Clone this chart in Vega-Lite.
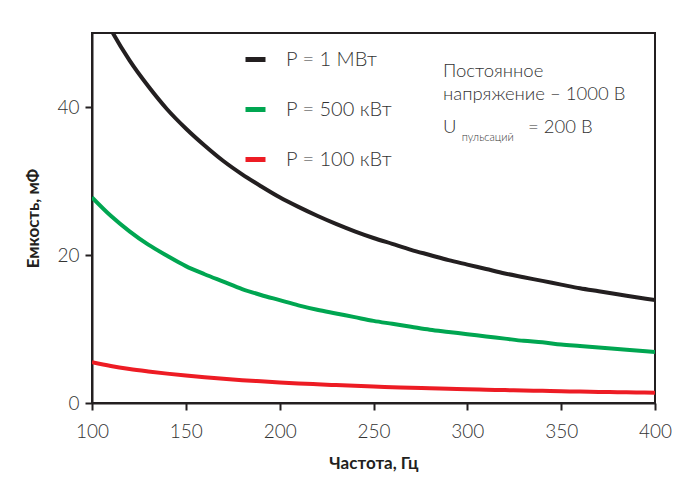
{
  "$schema": "https://vega.github.io/schema/vega-lite/v6.json",
  "width": 563,
  "height": 370,
  "autosize": "none",
  "padding": {"left": 92, "top": 33, "right": 28, "bottom": 93},
  "background": "white",
  "config": {
    "view": {"stroke": "#231f20", "strokeWidth": 2},
    "font": "Lato",
    "axis": {
      "domainColor": "#231f20", "domainWidth": 2, "tickColor": "#231f20", "tickWidth": 2, "tickSize": 7,
      "labelFont": "Lato", "labelFontSize": 19, "labelFontWeight": 300, "labelColor": "#333333", "grid": false, "labelFlush": false,
      "titleFont": "Lato", "titleFontSize": 17, "titleFontWeight": "bold", "titleColor": "#231f20"
    }
  },
  "datasets": {
    "curves": [
      {"f": 100, "c": 55.6, "s": "P = 1 МВт"}, {"f": 110, "c": 50.5, "s": "P = 1 МВт"}, {"f": 120, "c": 46.3, "s": "P = 1 МВт"},
      {"f": 130, "c": 42.8, "s": "P = 1 МВт"}, {"f": 140, "c": 39.7, "s": "P = 1 МВт"}, {"f": 150, "c": 37.1, "s": "P = 1 МВт"},
      {"f": 160, "c": 34.8, "s": "P = 1 МВт"}, {"f": 170, "c": 32.7, "s": "P = 1 МВт"}, {"f": 180, "c": 30.9, "s": "P = 1 МВт"},
      {"f": 190, "c": 29.3, "s": "P = 1 МВт"}, {"f": 200, "c": 27.8, "s": "P = 1 МВт"}, {"f": 210, "c": 26.5, "s": "P = 1 МВт"},
      {"f": 220, "c": 25.3, "s": "P = 1 МВт"}, {"f": 230, "c": 24.2, "s": "P = 1 МВт"}, {"f": 240, "c": 23.2, "s": "P = 1 МВт"},
      {"f": 250, "c": 22.3, "s": "P = 1 МВт"}, {"f": 260, "c": 21.5, "s": "P = 1 МВт"}, {"f": 270, "c": 20.7, "s": "P = 1 МВт"},
      {"f": 280, "c": 20.0, "s": "P = 1 МВт"}, {"f": 290, "c": 19.3, "s": "P = 1 МВт"}, {"f": 300, "c": 18.7, "s": "P = 1 МВт"},
      {"f": 310, "c": 18.1, "s": "P = 1 МВт"}, {"f": 320, "c": 17.5, "s": "P = 1 МВт"}, {"f": 330, "c": 17.0, "s": "P = 1 МВт"},
      {"f": 340, "c": 16.5, "s": "P = 1 МВт"}, {"f": 350, "c": 16.0, "s": "P = 1 МВт"}, {"f": 360, "c": 15.5, "s": "P = 1 МВт"},
      {"f": 370, "c": 15.1, "s": "P = 1 МВт"}, {"f": 380, "c": 14.7, "s": "P = 1 МВт"}, {"f": 390, "c": 14.3, "s": "P = 1 МВт"},
      {"f": 400, "c": 13.9, "s": "P = 1 МВт"},
      {"f": 100, "c": 27.8, "s": "P = 500 кВт"}, {"f": 110, "c": 25.3, "s": "P = 500 кВт"}, {"f": 120, "c": 23.2, "s": "P = 500 кВт"},
      {"f": 130, "c": 21.4, "s": "P = 500 кВт"}, {"f": 140, "c": 19.9, "s": "P = 500 кВт"}, {"f": 150, "c": 18.5, "s": "P = 500 кВт"},
      {"f": 160, "c": 17.4, "s": "P = 500 кВт"}, {"f": 170, "c": 16.4, "s": "P = 500 кВт"}, {"f": 180, "c": 15.4, "s": "P = 500 кВт"},
      {"f": 190, "c": 14.6, "s": "P = 500 кВт"}, {"f": 200, "c": 13.9, "s": "P = 500 кВт"}, {"f": 210, "c": 13.2, "s": "P = 500 кВт"},
      {"f": 220, "c": 12.6, "s": "P = 500 кВт"}, {"f": 230, "c": 12.1, "s": "P = 500 кВт"}, {"f": 240, "c": 11.6, "s": "P = 500 кВт"},
      {"f": 250, "c": 11.1, "s": "P = 500 кВт"}, {"f": 260, "c": 10.7, "s": "P = 500 кВт"}, {"f": 270, "c": 10.3, "s": "P = 500 кВт"},
      {"f": 280, "c": 9.9, "s": "P = 500 кВт"}, {"f": 290, "c": 9.6, "s": "P = 500 кВт"}, {"f": 300, "c": 9.3, "s": "P = 500 кВт"},
      {"f": 310, "c": 9.0, "s": "P = 500 кВт"}, {"f": 320, "c": 8.7, "s": "P = 500 кВт"}, {"f": 330, "c": 8.4, "s": "P = 500 кВт"},
      {"f": 340, "c": 8.2, "s": "P = 500 кВт"}, {"f": 350, "c": 7.9, "s": "P = 500 кВт"}, {"f": 360, "c": 7.7, "s": "P = 500 кВт"},
      {"f": 370, "c": 7.5, "s": "P = 500 кВт"}, {"f": 380, "c": 7.3, "s": "P = 500 кВт"}, {"f": 390, "c": 7.1, "s": "P = 500 кВт"},
      {"f": 400, "c": 6.9, "s": "P = 500 кВт"},
      {"f": 100, "c": 5.5, "s": "P = 100 кВт"}, {"f": 110, "c": 5.0, "s": "P = 100 кВт"}, {"f": 120, "c": 4.6, "s": "P = 100 кВт"},
      {"f": 130, "c": 4.27, "s": "P = 100 кВт"}, {"f": 140, "c": 3.97, "s": "P = 100 кВт"}, {"f": 150, "c": 3.71, "s": "P = 100 кВт"},
      {"f": 160, "c": 3.48, "s": "P = 100 кВт"}, {"f": 170, "c": 3.27, "s": "P = 100 кВт"}, {"f": 180, "c": 3.09, "s": "P = 100 кВт"},
      {"f": 190, "c": 2.93, "s": "P = 100 кВт"}, {"f": 200, "c": 2.78, "s": "P = 100 кВт"}, {"f": 210, "c": 2.65, "s": "P = 100 кВт"},
      {"f": 220, "c": 2.53, "s": "P = 100 кВт"}, {"f": 230, "c": 2.42, "s": "P = 100 кВт"}, {"f": 240, "c": 2.32, "s": "P = 100 кВт"},
      {"f": 250, "c": 2.22, "s": "P = 100 кВт"}, {"f": 260, "c": 2.14, "s": "P = 100 кВт"}, {"f": 270, "c": 2.06, "s": "P = 100 кВт"},
      {"f": 280, "c": 1.99, "s": "P = 100 кВт"}, {"f": 290, "c": 1.92, "s": "P = 100 кВт"}, {"f": 300, "c": 1.85, "s": "P = 100 кВт"},
      {"f": 310, "c": 1.79, "s": "P = 100 кВт"}, {"f": 320, "c": 1.74, "s": "P = 100 кВт"}, {"f": 330, "c": 1.68, "s": "P = 100 кВт"},
      {"f": 340, "c": 1.64, "s": "P = 100 кВт"}, {"f": 350, "c": 1.59, "s": "P = 100 кВт"}, {"f": 360, "c": 1.54, "s": "P = 100 кВт"},
      {"f": 370, "c": 1.5, "s": "P = 100 кВт"}, {"f": 380, "c": 1.46, "s": "P = 100 кВт"}, {"f": 390, "c": 1.43, "s": "P = 100 кВт"},
      {"f": 400, "c": 1.39, "s": "P = 100 кВт"}
    ],
    "one": [{}]
  },
  "layer": [
    {
      "data": {"name": "curves"},
      "mark": {"type": "line", "strokeWidth": 4, "interpolate": "monotone", "clip": true},
      "encoding": {
        "x": {"field": "f", "type": "quantitative", "scale": {"domain": [100, 400], "nice": false, "zero": false},
              "axis": {"values": [100, 150, 200, 250, 300, 350, 400], "title": "Частота, Гц", "labelPadding": 12, "titlePadding": 14}},
        "y": {"field": "c", "type": "quantitative", "scale": {"domain": [0, 50], "nice": false},
              "axis": {"values": [0, 20, 40], "title": "Емкость, мФ", "labelPadding": 6, "titlePadding": 14}},
        "color": {"field": "s", "type": "nominal",
                  "scale": {"domain": ["P = 1 МВт", "P = 500 кВт", "P = 100 кВт"], "range": ["#231f20", "#00a651", "#ed1c24"]},
                  "legend": {"orient": "none", "legendX": 151, "legendY": 14, "title": null,
                             "labelFont": "Lato", "labelFontSize": 20, "labelFontWeight": 300, "labelColor": "#333333", "labelOffset": 18,
                             "symbolStrokeWidth": 5, "symbolSize": 400, "rowPadding": 27}}
      }
    },
    {
      "data": {"name": "one"},
      "mark": {"type": "text", "align": "left", "baseline": "alphabetic", "fontSize": 18.5, "fontWeight": 300, "color": "#333333", "text": "Постоянное"},
      "encoding": {"x": {"datum": 287}, "y": {"datum": 44.0}}
    },
    {
      "data": {"name": "one"},
      "mark": {"type": "text", "align": "left", "baseline": "alphabetic", "fontSize": 18.5, "fontWeight": 300, "color": "#333333", "text": "напряжение – 1000 В"},
      "encoding": {"x": {"datum": 287}, "y": {"datum": 40.9}}
    },
    {
      "data": {"name": "one"},
      "mark": {"type": "text", "align": "left", "baseline": "alphabetic", "fontSize": 18.5, "fontWeight": 300, "color": "#333333", "text": "U"},
      "encoding": {"x": {"datum": 287}, "y": {"datum": 36.5}}
    },
    {
      "data": {"name": "one"},
      "mark": {"type": "text", "align": "left", "baseline": "alphabetic", "fontSize": 11, "fontWeight": 300, "color": "#333333", "text": "пульсаций"},
      "encoding": {"x": {"datum": 297.0}, "y": {"datum": 35.4}}
    },
    {
      "data": {"name": "one"},
      "mark": {"type": "text", "align": "left", "baseline": "alphabetic", "fontSize": 18.5, "fontWeight": 300, "color": "#333333", "text": "= 200 В"},
      "encoding": {"x": {"datum": 332.3}, "y": {"datum": 36.5}}
    }
  ]
}
